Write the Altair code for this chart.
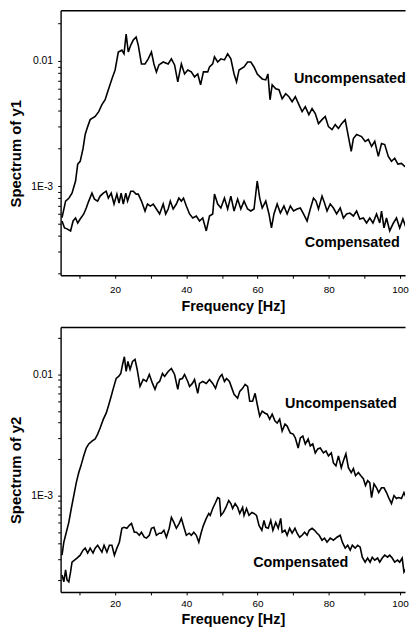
import altair as alt
import pandas as pd

# ---------------- data ----------------
# Top panel: Spectrum of y1
U1_F = [5.1, 6.1, 7.0, 7.9, 8.9, 9.5, 10.2, 11.0, 11.6, 12.3,
        13.0, 14.4, 15.4, 16.3, 17.2, 18.1, 19.1, 20.0, 20.9, 21.9,
        22.5, 23.1, 23.7, 24.4, 25.1, 25.9, 26.5, 27.4, 28.4, 29.3,
        30.2, 30.9, 31.6, 32.3, 33.5, 34.9, 35.8, 36.7, 37.6, 38.6,
        39.5, 40.4, 41.4, 42.3, 43.2, 44.0, 44.8, 46.0, 46.5, 47.4,
        47.9, 48.8, 49.7, 50.7, 51.6, 52.5, 53.4, 54.1, 54.8, 56.2,
        57.2, 58.1, 59.0, 59.9, 61.3, 62.3, 62.9, 63.5, 64.1, 65.1,
        66.0, 66.9, 67.9, 68.8, 69.7, 70.6, 71.6, 72.5, 73.4, 74.4,
        75.3, 76.2, 77.1, 78.1, 79.0, 79.9, 80.9, 81.8, 82.7, 83.6,
        84.6, 85.5, 86.3, 86.9, 87.8, 89.2, 90.2, 91.1, 92.0, 92.9,
        93.9, 94.8, 95.7, 96.7, 97.6, 98.5, 99.4, 100.4, 101.3, 102.2,
        103.1, 103.9]
U1_V = [5.6e-4, 7.6e-4, 8.0e-4, 8.8e-4, 1.10e-3, 1.50e-3, 1.58e-3, 2.00e-3, 2.59e-3, 2.99e-3,
        3.40e-3, 3.60e-3, 3.94e-3, 4.48e-3, 4.90e-3, 5.89e-3, 7.19e-3, 8.48e-3, 1.18e-2, 1.22e-2,
        1.14e-2, 1.64e-2, 1.18e-2, 1.34e-2, 1.47e-2, 1.55e-2, 1.34e-2, 9.47e-3, 9.47e-3, 1.04e-2,
        1.18e-2, 9.47e-3, 8.18e-3, 9.30e-3, 9.82e-3, 9.47e-3, 1.04e-2, 9.30e-3, 6.81e-3, 9.47e-3,
        7.88e-3, 8.48e-3, 8.18e-3, 7.46e-3, 7.88e-3, 6.45e-3, 8.18e-3, 8.18e-3, 8.96e-3, 9.47e-3,
        1.08e-2, 9.82e-3, 1.04e-2, 1.02e-2, 1.14e-2, 1.04e-2, 7.88e-3, 6.81e-3, 8.48e-3, 8.96e-3,
        9.82e-3, 9.82e-3, 8.96e-3, 7.88e-3, 7.19e-3, 7.06e-3, 7.88e-3, 4.90e-3, 6.45e-3, 6.00e-3,
        5.89e-3, 4.99e-3, 5.47e-3, 5.18e-3, 4.73e-3, 5.18e-3, 4.48e-3, 3.94e-3, 4.32e-3, 3.73e-3,
        4.16e-3, 3.80e-3, 3.16e-3, 3.40e-3, 3.60e-3, 2.99e-3, 2.83e-3, 3.10e-3, 2.89e-3, 3.16e-3,
        3.40e-3, 2.49e-3, 1.90e-3, 2.40e-3, 2.59e-3, 2.49e-3, 2.28e-3, 2.36e-3, 2.08e-3, 2.28e-3,
        1.73e-3, 2.19e-3, 2.15e-3, 1.73e-3, 1.58e-3, 1.67e-3, 1.50e-3, 1.52e-3, 1.44e-3, 1.39e-3,
        1.20e-3, 1.10e-3]

C1_F = [5.1, 5.8, 6.5, 7.5, 8.2, 8.9, 9.5, 10.2, 11.2, 11.9,
        12.6, 13.5, 14.2, 15.1, 15.8, 16.7, 17.5, 18.1, 18.9, 19.7,
        20.5, 21.1, 21.7, 22.3, 23.0, 23.5, 24.4, 25.1, 25.9, 26.5,
        27.4, 28.4, 29.1, 29.9, 30.7, 31.6, 32.5, 33.5, 34.2, 34.9,
        35.5, 36.3, 37.2, 37.9, 38.6, 39.2, 40.0, 40.9, 41.8, 42.8,
        43.7, 44.6, 45.6, 46.5, 47.4, 47.9, 48.8, 49.7, 50.7, 51.6,
        52.5, 53.4, 54.4, 55.3, 56.2, 57.2, 58.1, 59.0, 59.9, 60.6,
        61.3, 62.3, 63.2, 63.9, 64.6, 65.5, 66.4, 67.4, 68.3, 69.2,
        70.1, 71.1, 72.0, 72.9, 73.9, 74.8, 75.7, 76.4, 77.1, 78.1,
        78.8, 79.5, 80.4, 81.3, 82.2, 83.2, 84.1, 85.0, 85.9, 86.9,
        87.8, 88.7, 89.7, 90.6, 91.5, 92.4, 93.4, 94.3, 94.8, 95.5,
        96.2, 97.1, 98.0, 99.0, 99.9, 100.8, 101.7, 102.7, 103.6]
C1_V = [5.27e-4, 4.64e-4, 4.56e-4, 4.39e-4, 5.27e-4, 5.57e-4, 5.08e-4, 5.47e-4, 6.00e-4, 6.69e-4,
        7.60e-4, 8.79e-4, 7.88e-4, 7.60e-4, 8.33e-4, 8.79e-4, 9.12e-4, 8.03e-4, 8.79e-4, 7.20e-4,
        8.64e-4, 7.33e-4, 8.79e-4, 7.20e-4, 8.79e-4, 7.60e-4, 9.12e-4, 9.12e-4, 8.64e-4, 8.64e-4,
        7.60e-4, 6.33e-4, 7.20e-4, 6.94e-4, 7.20e-4, 6.57e-4, 6.00e-4, 7.20e-4, 6.00e-4, 6.57e-4,
        7.60e-4, 6.57e-4, 7.20e-4, 8.03e-4, 7.60e-4, 8.03e-4, 6.94e-4, 6.00e-4, 5.57e-4, 5.78e-4,
        5.27e-4, 5.57e-4, 4.39e-4, 5.78e-4, 6.00e-4, 8.64e-4, 7.20e-4, 6.69e-4, 8.03e-4, 6.57e-4,
        8.33e-4, 6.33e-4, 7.88e-4, 6.57e-4, 7.60e-4, 6.57e-4, 6.33e-4, 6.57e-4, 1.10e-3, 8.03e-4,
        6.69e-4, 7.60e-4, 6.00e-4, 4.64e-4, 6.00e-4, 7.20e-4, 6.10e-4, 6.94e-4, 6.00e-4, 6.94e-4,
        6.33e-4, 6.57e-4, 6.69e-4, 6.00e-4, 5.27e-4, 6.57e-4, 8.03e-4, 7.60e-4, 6.57e-4, 8.33e-4,
        7.33e-4, 6.33e-4, 7.20e-4, 6.69e-4, 6.00e-4, 6.69e-4, 5.57e-4, 6.00e-4, 6.10e-4, 5.78e-4,
        6.33e-4, 5.47e-4, 5.57e-4, 5.08e-4, 5.57e-4, 5.08e-4, 6.00e-4, 5.08e-4, 6.33e-4, 4.64e-4,
        5.57e-4, 4.39e-4, 4.99e-4, 5.57e-4, 4.64e-4, 5.47e-4, 4.64e-4, 5.27e-4, 4.56e-4]

# Bottom panel: Spectrum of y2
U2_F = [5.1, 5.6, 6.3, 7.0, 7.7, 8.4, 9.1, 9.8, 10.4, 11.2,
        11.9, 12.6, 13.5, 14.4, 15.1, 15.8, 16.7, 17.5, 18.1, 18.9,
        19.5, 20.3, 21.0, 21.6, 22.1, 22.6, 23.1, 23.6, 24.2, 24.9,
        25.6, 26.2, 27.0, 27.9, 28.8, 29.6, 30.5, 31.2, 31.8, 32.5,
        33.3, 33.9, 34.9, 35.8, 36.7, 37.6, 38.1, 38.9, 39.5, 40.4,
        40.9, 41.7, 42.3, 43.2, 43.7, 44.6, 45.6, 46.5, 47.4, 48.2,
        48.8, 49.5, 50.0, 50.7, 51.3, 52.1, 52.8, 53.4, 54.4, 55.0,
        55.8, 56.5, 57.2, 57.8, 58.6, 59.3, 59.9, 60.6, 61.3, 62.1,
        62.7, 63.4, 64.1, 64.9, 65.5, 66.2, 66.9, 67.7, 68.3, 69.2,
        70.0, 70.6, 71.4, 72.0, 72.7, 73.4, 74.2, 74.8, 75.5, 76.2,
        76.9, 77.6, 78.5, 79.2, 79.9, 80.7, 81.3, 82.0, 82.7, 83.5,
        84.1, 84.8, 85.5, 86.3, 86.9, 87.5, 88.3, 89.0, 89.7, 90.3,
        90.9, 91.5, 92.0, 92.7, 93.4, 94.0, 94.8, 95.5, 96.2, 96.8,
        97.6, 98.3, 99.0, 99.6, 100.4, 101.1, 101.7, 102.4, 103.0, 103.6]
U2_V = [3.22e-4, 4.12e-4, 4.98e-4, 6.01e-4, 7.82e-4, 1.00e-3, 1.28e-3, 1.55e-3, 1.76e-3, 2.13e-3,
        2.47e-3, 2.67e-3, 2.82e-3, 2.93e-3, 3.22e-3, 3.61e-3, 4.28e-3, 4.79e-3, 5.47e-3, 6.60e-3,
        7.68e-3, 9.27e-3, 9.63e-3, 1.02e-2, 1.21e-2, 1.40e-2, 1.06e-2, 1.28e-2, 1.10e-2, 1.28e-2,
        1.33e-2, 1.10e-2, 7.97e-3, 9.10e-3, 8.76e-3, 1.00e-2, 8.44e-3, 7.53e-3, 8.44e-3, 8.76e-3,
        1.02e-2, 9.63e-3, 1.06e-2, 1.12e-2, 1.00e-2, 7.53e-3, 9.10e-3, 9.27e-3, 1.00e-2, 8.76e-3,
        7.97e-3, 8.44e-3, 9.10e-3, 6.99e-3, 8.44e-3, 8.76e-3, 8.44e-3, 9.10e-3, 8.44e-3, 7.68e-3,
        8.76e-3, 9.63e-3, 1.00e-2, 8.76e-3, 9.27e-3, 8.76e-3, 7.68e-3, 6.86e-3, 6.36e-3, 7.26e-3,
        7.68e-3, 8.28e-3, 7.97e-3, 6.01e-3, 6.01e-3, 6.99e-3, 5.68e-3, 4.53e-3, 4.98e-3, 4.79e-3,
        4.70e-3, 4.28e-3, 4.70e-3, 4.12e-3, 3.97e-3, 4.28e-3, 3.41e-3, 3.89e-3, 3.75e-3, 3.28e-3,
        3.22e-3, 2.99e-3, 2.47e-3, 2.99e-3, 3.10e-3, 2.67e-3, 2.93e-3, 2.57e-3, 2.67e-3, 2.25e-3,
        2.43e-3, 2.47e-3, 2.25e-3, 2.34e-3, 2.13e-3, 2.25e-3, 1.86e-3, 1.76e-3, 2.13e-3, 1.70e-3,
        1.94e-3, 2.21e-3, 1.70e-3, 1.55e-3, 1.67e-3, 1.46e-3, 1.55e-3, 1.46e-3, 1.38e-3, 1.21e-3,
        1.33e-3, 1.28e-3, 9.63e-4, 1.25e-3, 1.16e-3, 1.06e-3, 1.16e-3, 1.16e-3, 1.06e-3, 9.63e-4,
        8.60e-4, 1.00e-3, 9.45e-4, 9.63e-4, 9.45e-4, 1.06e-3, 9.63e-4, 9.10e-4, 7.26e-4, 7.53e-4]

C2_F = [5.1, 5.6, 6.1, 6.5, 7.0, 7.5, 7.9, 8.6, 9.3, 10.2,
        11.0, 11.6, 12.3, 13.0, 13.8, 14.4, 15.1, 15.6, 16.3, 16.9,
        17.7, 18.4, 19.1, 19.8, 20.5, 21.2, 21.9, 22.5, 23.3, 24.0,
        24.6, 25.4, 26.0, 26.8, 27.4, 28.2, 28.8, 29.6, 30.2, 30.9,
        31.6, 32.4, 33.0, 33.7, 34.4, 35.2, 35.8, 36.5, 37.2, 38.0,
        38.6, 39.4, 40.0, 40.8, 41.4, 42.1, 42.8, 43.5, 44.2, 44.8,
        45.6, 46.3, 46.7, 47.4, 48.2, 48.8, 49.3, 49.7, 50.4, 51.1,
        51.9, 52.5, 53.0, 53.7, 54.4, 55.0, 55.8, 56.2, 56.9, 57.6,
        58.4, 59.0, 59.7, 60.4, 61.2, 61.8, 62.3, 63.0, 63.7, 64.3,
        65.1, 65.8, 66.5, 66.9, 67.7, 68.3, 69.0, 69.7, 70.5, 71.1,
        71.8, 72.5, 73.2, 73.9, 74.5, 75.3, 76.0, 76.7, 77.3, 78.1,
        78.8, 79.5, 80.4, 81.3, 82.3, 83.2, 83.8, 84.6, 85.3, 86.0,
        86.6, 87.4, 88.1, 88.8, 89.4, 90.2, 90.9, 91.6, 92.2, 92.9,
        93.7, 94.3, 95.0, 95.7, 96.5, 97.1, 97.8, 98.5, 99.3, 99.9,
        100.6, 101.1, 101.8, 102.4, 103.0, 103.6]
C2_V = [2.21e-4, 1.94e-4, 2.43e-4, 2.01e-4, 1.94e-4, 2.34e-4, 2.82e-4, 2.93e-4, 3.05e-4, 3.22e-4,
        3.54e-4, 3.68e-4, 3.35e-4, 3.68e-4, 3.35e-4, 3.68e-4, 3.89e-4, 3.68e-4, 3.41e-4, 3.89e-4,
        3.41e-4, 3.89e-4, 3.89e-4, 3.22e-4, 3.68e-4, 4.12e-4, 5.37e-4, 5.47e-4, 5.37e-4, 5.68e-4,
        5.89e-4, 4.98e-4, 4.98e-4, 4.70e-4, 4.98e-4, 4.53e-4, 4.45e-4, 4.70e-4, 5.37e-4, 5.47e-4,
        4.70e-4, 4.89e-4, 4.89e-4, 5.17e-4, 4.53e-4, 5.37e-4, 6.60e-4, 6.01e-4, 5.37e-4, 5.89e-4,
        6.48e-4, 5.37e-4, 4.70e-4, 4.89e-4, 4.70e-4, 4.98e-4, 4.70e-4, 4.12e-4, 4.98e-4, 5.68e-4,
        6.48e-4, 7.12e-4, 6.86e-4, 7.82e-4, 8.77e-4, 9.63e-4, 9.45e-4, 6.86e-4, 7.26e-4, 7.98e-4,
        9.10e-4, 8.60e-4, 7.82e-4, 8.60e-4, 7.98e-4, 7.12e-4, 7.98e-4, 6.86e-4, 7.82e-4, 6.86e-4,
        7.26e-4, 7.12e-4, 6.86e-4, 5.68e-4, 5.17e-4, 6.24e-4, 5.47e-4, 5.37e-4, 6.24e-4, 5.17e-4,
        6.01e-4, 5.37e-4, 6.48e-4, 4.98e-4, 5.17e-4, 4.70e-4, 5.37e-4, 4.89e-4, 5.37e-4, 4.89e-4,
        4.53e-4, 4.70e-4, 4.98e-4, 4.70e-4, 5.17e-4, 5.37e-4, 5.17e-4, 4.89e-4, 4.70e-4, 4.28e-4,
        4.45e-4, 4.12e-4, 4.45e-4, 4.28e-4, 4.53e-4, 4.70e-4, 4.12e-4, 3.68e-4, 3.89e-4, 3.54e-4,
        3.89e-4, 3.68e-4, 3.89e-4, 3.75e-4, 3.10e-4, 2.82e-4, 3.05e-4, 2.82e-4, 3.10e-4, 2.93e-4,
        3.05e-4, 2.82e-4, 3.05e-4, 3.22e-4, 3.10e-4, 3.22e-4, 3.05e-4, 2.82e-4, 2.93e-4, 2.82e-4,
        3.05e-4, 2.34e-4, 2.52e-4, 2.34e-4, 2.82e-4, 2.52e-4]

SERIES_NAMES = ["Uncompensated", "Compensated"]
X_TICKS = [10, 20, 30, 40, 50, 60, 70, 80, 90, 100]
Y_TICKS = [2e-4, 3e-4, 4e-4, 5e-4, 6e-4, 7e-4, 8e-4, 9e-4,
           1e-3, 2e-3, 3e-3, 4e-3, 5e-3, 6e-3, 7e-3, 8e-3, 9e-3,
           1e-2, 2e-2]

# label anchor points (Hz, value)
TOP_LABEL_F = [85.9, 86.6]
TOP_LABEL_V = [7.2e-3, 3.53e-4]
BOT_LABEL_F = [83.4, 72.1]
BOT_LABEL_V = [5.68e-3, 2.75e-4]

FONT = "Liberation Sans"
X_DOMAIN = [4.7, 101.4]   # the plot runs off the right edge of the picture


def make_df(f_u, v_u, f_c, v_c):
    a = pd.DataFrame({"f": f_u, "v": v_u, "series": SERIES_NAMES[0]})
    b = pd.DataFrame({"f": f_c, "v": v_c, "series": SERIES_NAMES[1]})
    return pd.concat([a, b], ignore_index=True)


def panel(df, ydomain, ytitle, lab_f, lab_v, x_label_pad, x_title_pad):
    xscale = alt.Scale(domain=X_DOMAIN, nice=False, zero=False)
    x = alt.X(
        "f:Q",
        scale=xscale,
        axis=alt.Axis(
            values=X_TICKS,
            labelExpr="datum.value % 20 == 0 ? '' + datum.value : ''",
            title="Frequency [Hz]",
            grid=False,
            tickSize=3,
            tickColor="black",
            tickWidth=1,
            domainColor="black",
            domainWidth=1.4,
            labelFont=FONT,
            labelFontSize=10,
            labelColor="black",
            labelPadding=x_label_pad,
            labelOverlap=False,
            titleFont=FONT,
            titleFontSize=14.5,
            titleFontWeight="bold",
            titleColor="black",
            titlePadding=x_title_pad,
        ),
    )
    y = alt.Y(
        "v:Q",
        scale=alt.Scale(type="log", domain=ydomain, nice=False),
        axis=alt.Axis(
            values=Y_TICKS,
            labelExpr="datum.value == 0.01 ? '0.01' : (datum.value == 0.001 ? '1E-3' : '')",
            title=ytitle,
            grid=False,
            tickSize=3,
            tickColor="black",
            tickWidth=1,
            domainColor="black",
            domainWidth=1.4,
            labelFont=FONT,
            labelFontSize=10.5,
            labelColor="black",
            labelPadding=5,
            labelOverlap=False,
            titleFont=FONT,
            titleFontSize=15,
            titleFontWeight="bold",
            titleColor="black",
            titlePadding=7,
            titleY=144,
        ),
    )
    lines = alt.Chart(df).mark_line(color="black", strokeWidth=1.6, clip=True).encode(
        x=x, y=y, detail="series:N"
    )
    lab_df = pd.DataFrame({"f": lab_f, "v": lab_v, "label": SERIES_NAMES})
    texts = alt.Chart(lab_df).mark_text(
        font=FONT, fontSize=14.5, fontWeight="bold", color="black",
        align="center", baseline="middle",
    ).encode(
        x=alt.X("f:Q", scale=xscale,
                axis=alt.Axis(orient="top", labels=False, ticks=False, title=None,
                              grid=False, domainColor="black", domainWidth=1.4)),
        y=alt.Y("v:Q"),
        text="label:N",
    )
    return (
        alt.layer(lines, texts)
        .resolve_scale(x="shared")
        .resolve_axis(x="independent")
        .properties(width=347, height=267)
    )


top = panel(make_df(U1_F, U1_V, C1_F, C1_V), [1.94e-4, 0.0254], "Spectrum of y1",
            TOP_LABEL_F, TOP_LABEL_V, 6, 5)
bottom = panel(make_df(U2_F, U2_V, C2_F, C2_V), [1.6e-4, 0.0247], "Spectrum of y2",
               BOT_LABEL_F, BOT_LABEL_V, 4, 4)

chart = (
    alt.vconcat(top, bottom, spacing=14)
    .properties(padding=0, background="white")
    .configure_view(stroke="transparent", strokeWidth=0)
)

chart.save("out.html", embed_options={"renderer": "svg", "actions": False})
